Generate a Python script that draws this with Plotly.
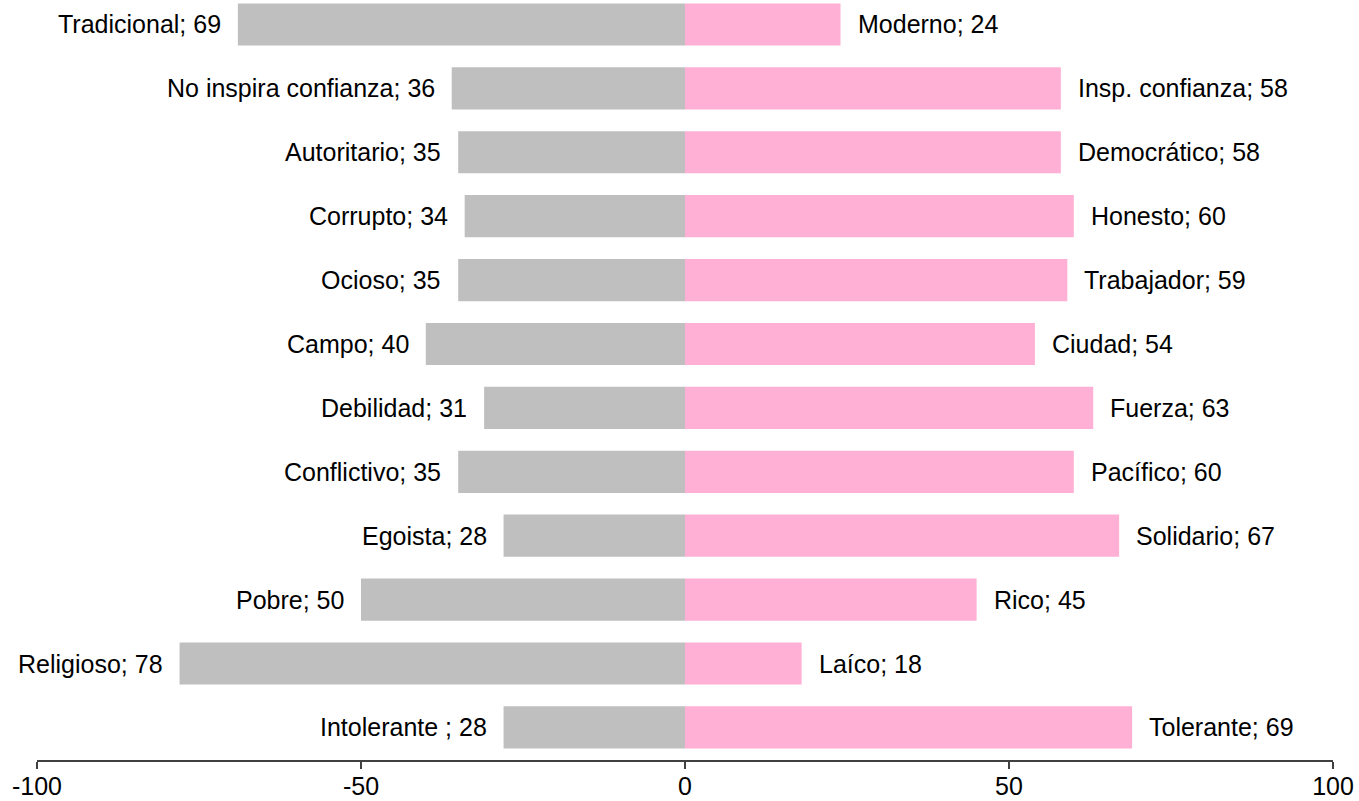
import plotly.graph_objects as go

left_labels = ["Tradicional", "No inspira confianza", "Autoritario", "Corrupto", "Ocioso",
               "Campo", "Debilidad", "Conflictivo", "Egoista", "Pobre", "Religioso", "Intolerante "]
left_values = [69, 36, 35, 34, 35, 40, 31, 35, 28, 50, 78, 28]
right_labels = ["Moderno", "Insp. confianza", "Democrático", "Honesto", "Trabajador",
                "Ciudad", "Fuerza", "Pacífico", "Solidario", "Rico", "Laíco", "Tolerante"]
right_values = [24, 58, 58, 60, 59, 54, 63, 60, 67, 45, 18, 69]
tick_values = [-100, -50, 0, 50, 100]
tick_labels = ["-100", "-50", "0", "50", "100"]

rows = list(range(len(left_labels)))
FONT = "Liberation Sans, Arial, sans-serif"

fig = go.Figure()
fig.add_trace(go.Bar(y=rows, x=[-v for v in left_values], base=0, orientation="h",
                     marker=dict(color="#BFBFBF", line=dict(width=0)), width=0.66,
                     hoverinfo="skip"))
fig.add_trace(go.Bar(y=rows, x=right_values, base=0, orientation="h",
                     marker=dict(color="#FFB0D4", line=dict(width=0)), width=0.66,
                     hoverinfo="skip"))

annotations = []
for r, lab, v in zip(rows, left_labels, left_values):
    annotations.append(dict(x=-v, y=r, xref="x", yref="y", text=f"{lab}; {v}",
                            showarrow=False, xanchor="right", yanchor="middle", xshift=-15,
                            font=dict(family=FONT, size=25, color="black")))
for r, lab, v in zip(rows, right_labels, right_values):
    annotations.append(dict(x=v, y=r, xref="x", yref="y", text=f"{lab}; {v}",
                            showarrow=False, xanchor="left", yanchor="middle", xshift=15,
                            font=dict(family=FONT, size=25, color="black")))

fig.update_layout(
    width=1359, height=801,
    margin=dict(l=37, r=26, t=0, b=41),
    barmode="overlay", showlegend=False,
    plot_bgcolor="white", paper_bgcolor="white",
    font=dict(family=FONT, size=25, color="black"),
    annotations=annotations,
    xaxis=dict(range=[-100, 100], tickvals=tick_values, ticktext=tick_labels,
               automargin=False, ticklabelstandoff=-4,
               showgrid=False, zeroline=False, showline=True, linecolor="#404040",
               linewidth=1.5, ticks="outside", ticklen=7, tickcolor="#404040", tickwidth=1.5,
               tickfont=dict(family=FONT, size=25, color="black")),
    yaxis=dict(range=[11.51, -0.383], visible=False, automargin=False,
               showgrid=False, zeroline=False),
)

fig.write_html("out.html", config={"displayModeBar": False},
               post_script="document.body.style.margin='0px';document.body.style.overflow='hidden';")
